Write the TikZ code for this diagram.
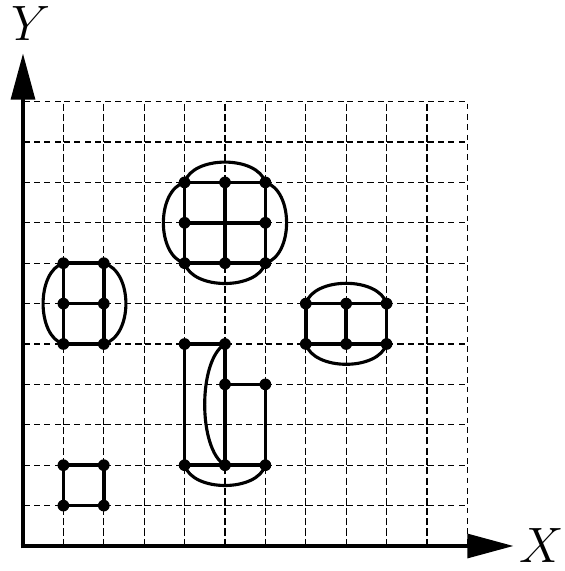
\RequirePackage{fix-cm}
\documentclass[tikz,border=0pt]{standalone}
\usetikzlibrary{arrows.meta}
\begin{document}
\begin{tikzpicture}[x=1cm,y=1cm,
  gridcell/.style={line width=0.85pt, dash pattern=on 4pt off 3.3pt},
  axisline/.style={line width=3.4pt, -{Triangle[length=11.5mm,width=5.8mm]}},
  edge/.style={line width=2.6pt},
  curve/.style={line width=2.2pt},
  vtx/.style={circle, fill=black, inner sep=0pt, minimum size=0.29cm},
  lab/.style={font=\fontsize{35}{40}\selectfont}]
\useasboundingbox (-0.569,-0.619) rectangle (13.416,13.515);
% grid
\foreach \i in {0,...,10}{\foreach \j in {0,...,10}{
  \draw[gridcell] (\i,\j) rectangle (\i+1,\j+1);}}
% axes
\coordinate (O) at (0,0);
\coordinate (xe) at (12.15,0);
\coordinate (ye) at (0,12.2);
\draw[axisline] ([xshift=-1.7pt]O) -- (xe);
\draw[axisline] ([yshift=-1.7pt]O) -- (ye);
\node[lab] (X) at (12.83,0.02) {$X$};
\node[lab] (Y) at (0.2,12.93) {$Y$};
% small square
\node[vtx] (s1) at (1,1) {}; \node[vtx] (s2) at (2,1) {};
\node[vtx] (s3) at (2,2) {}; \node[vtx] (s4) at (1,2) {};
\draw[edge] (s1.center) -- (s2.center) -- (s3.center) -- (s4.center) -- cycle;
% left shape
\node[vtx] (a1) at (1,5) {}; \node[vtx] (a2) at (2,5) {};
\node[vtx] (a3) at (1,6) {}; \node[vtx] (a4) at (2,6) {};
\node[vtx] (a5) at (1,7) {}; \node[vtx] (a6) at (2,7) {};
\draw[edge] (a1.center) -- (a2.center) (a3.center) -- (a4.center) (a5.center) -- (a6.center)
  (a1.center) -- (a5.center) (a2.center) -- (a6.center);
\draw[curve] (a5.center) .. controls (0.33,6.8) and (0.33,5.2) .. (a1.center);
\draw[curve] (a6.center) .. controls (2.73,6.8) and (2.73,5.2) .. (a2.center);
% top-middle shape
\node[vtx] (b1) at (4,9) {}; \node[vtx] (b2) at (5,9) {}; \node[vtx] (b3) at (6,9) {};
\node[vtx] (b4) at (4,8) {}; \node[vtx] (b6) at (6,8) {};
\node[vtx] (b7) at (4,7) {}; \node[vtx] (b8) at (5,7) {}; \node[vtx] (b9) at (6,7) {};
\draw[edge] (b1.center) -- (b3.center) (b4.center) -- (b6.center) (b7.center) -- (b9.center)
  (b1.center) -- (b7.center) (b2.center) -- (b8.center) (b3.center) -- (b9.center);
\draw[curve] (b1.center) .. controls (4.2,9.67) and (5.8,9.67) .. (b3.center);
\draw[curve] (b7.center) .. controls (4.2,6.33) and (5.8,6.33) .. (b9.center);
\draw[curve] (b1.center) .. controls (3.3,8.8) and (3.3,7.2) .. (b7.center);
\draw[curve] (b3.center) .. controls (6.7,8.8) and (6.7,7.2) .. (b9.center);
% right shape
\node[vtx] (c1) at (7,6) {}; \node[vtx] (c2) at (8,6) {}; \node[vtx] (c3) at (9,6) {};
\node[vtx] (c4) at (7,5) {}; \node[vtx] (c5) at (8,5) {}; \node[vtx] (c6) at (9,5) {};
\draw[edge] (c1.center) -- (c3.center) (c4.center) -- (c6.center)
  (c1.center) -- (c4.center) (c2.center) -- (c5.center) (c3.center) -- (c6.center);
\draw[curve] (c1.center) .. controls (7.2,6.67) and (8.8,6.67) .. (c3.center);
\draw[curve] (c4.center) .. controls (7.2,4.33) and (8.8,4.33) .. (c6.center);
% middle-bottom shape
\node[vtx] (d1) at (4,5) {}; \node[vtx] (d2) at (5,5) {};
\node[vtx] (d3) at (5,4) {}; \node[vtx] (d4) at (6,4) {};
\node[vtx] (d5) at (4,2) {}; \node[vtx] (d6) at (5,2) {}; \node[vtx] (d7) at (6,2) {};
\draw[edge] (d1.center) -- (d2.center) -- (d6.center) (d1.center) -- (d5.center) -- (d7.center) -- (d4.center) -- (d3.center);
\draw[curve] (d2.center) .. controls (4.33,4.6) and (4.33,2.4) .. (d6.center);
\draw[curve] (d5.center) .. controls (4.2,1.33) and (5.8,1.33) .. (d7.center);
\end{tikzpicture}
\end{document}
